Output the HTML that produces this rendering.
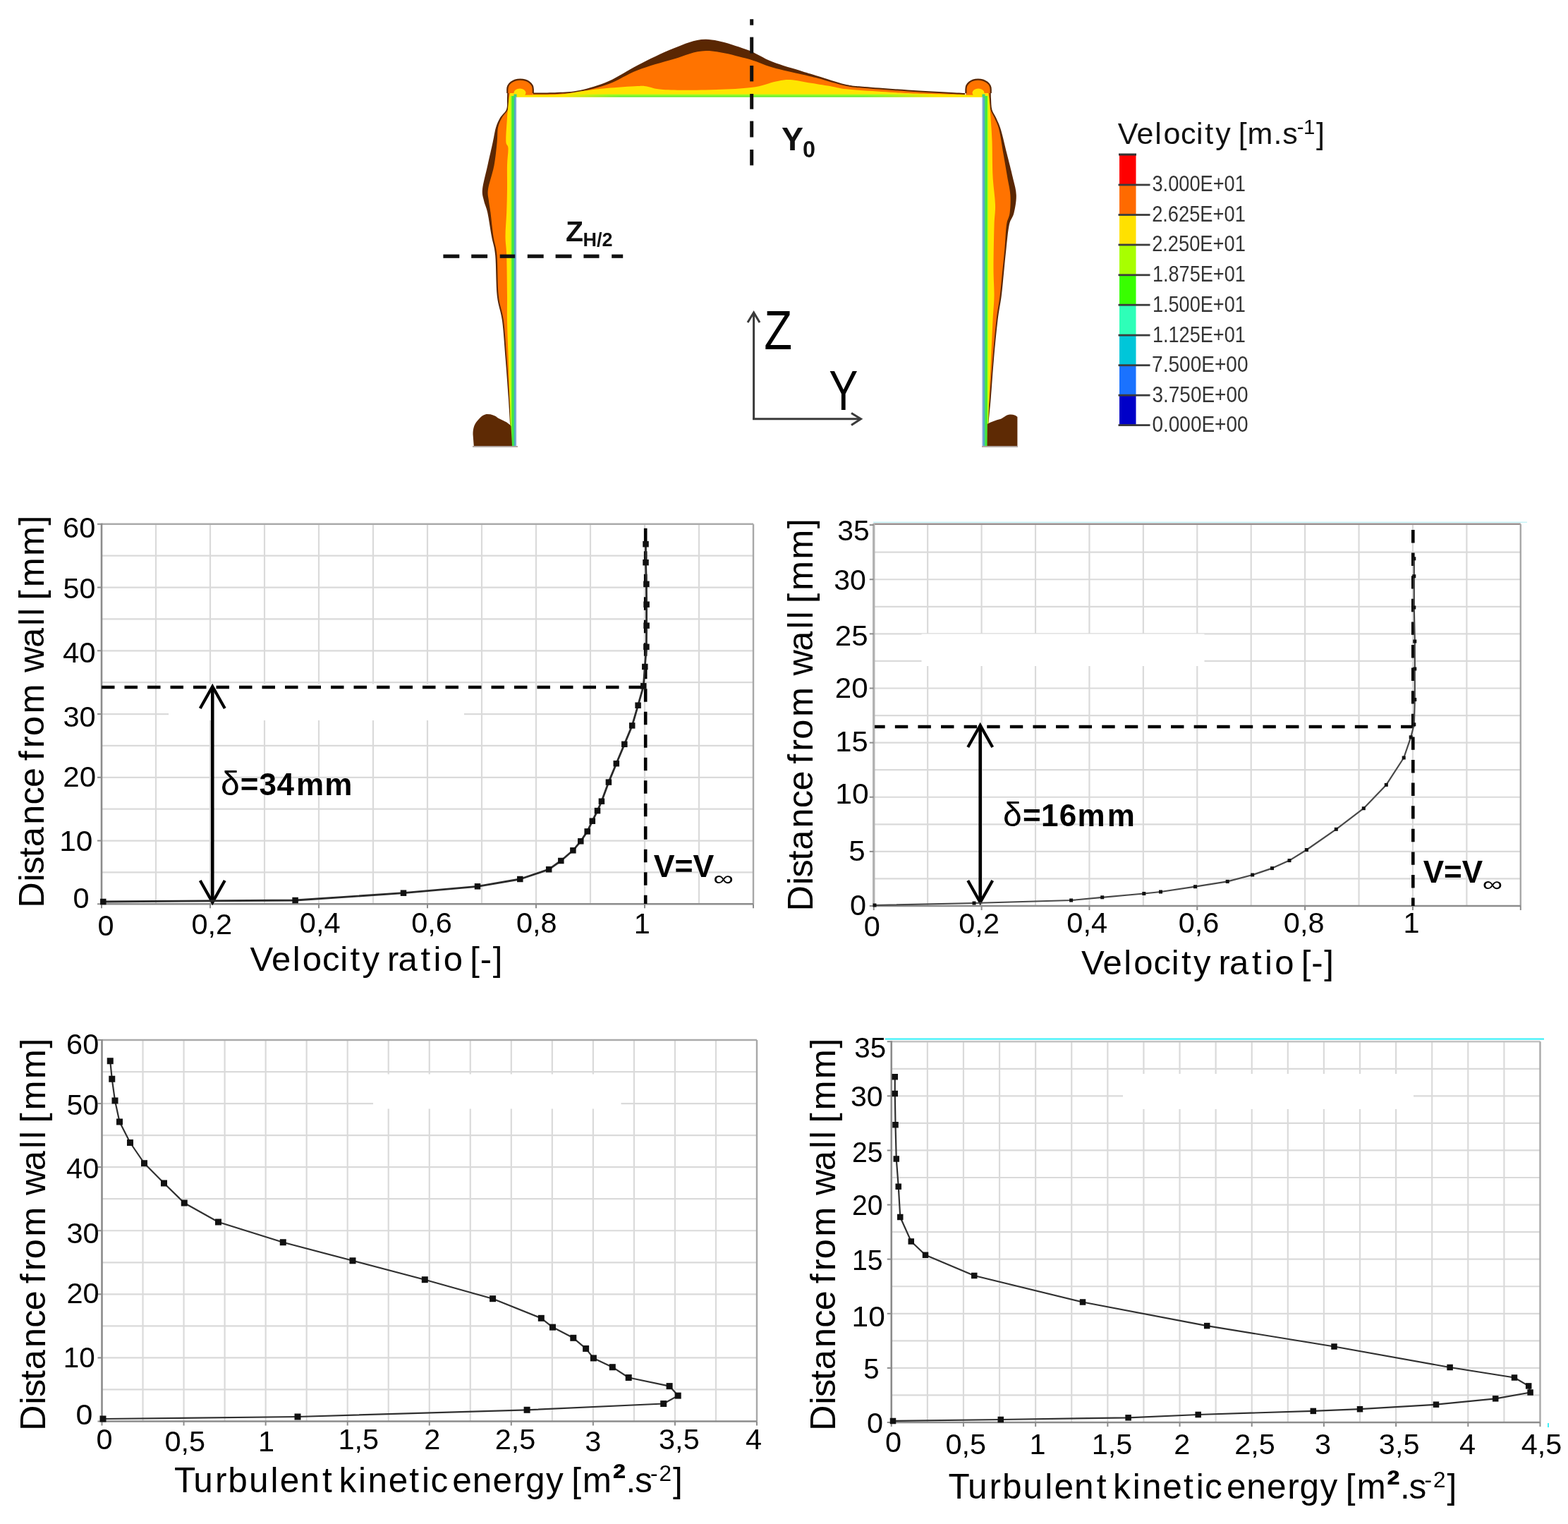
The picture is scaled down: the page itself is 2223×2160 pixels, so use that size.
<!DOCTYPE html><html><head><meta charset="utf-8"><title>Velocity and turbulence profiles</title>
<style>html,body{margin:0;padding:0;background:#fff;overflow:hidden;width:2223px;height:2160px;}svg{display:block;}text{font-family:'Liberation Sans', 'DejaVu Sans', sans-serif;font-kerning:none;}</style></head><body>
<svg width="2223" height="2160" viewBox="0 0 2223 2160">
<rect width="2223" height="2160" fill="#fff"/>
<g id="contour">
<path d="M719.3,128 C719.25,130 719.22,135.5 719,140 C718.78,144.5 719.67,150.5 718,155 C716.33,159.5 711.5,162.67 709,167 C706.5,171.33 704.7,175.33 703,181 C701.3,186.67 700.75,192.08 698.8,201 C696.85,209.92 693.77,223.33 691.3,234.5 C688.83,245.67 684.85,259.58 684,268 C683.15,276.42 684.98,279.38 686.2,285 C687.42,290.62 689.5,293.32 691.3,301.7 C693.1,310.08 695.18,325.25 697,335.3 C698.82,345.35 700.92,348.05 702.2,362 C703.48,375.95 703.07,403.57 704.7,419 C706.33,434.43 710,439.6 712,454.6 C714,469.6 715.23,490.8 716.7,509 C718.17,527.2 719.75,548.63 720.8,563.8 C721.85,578.97 722.3,588.47 723,600 C723.7,611.53 724.67,627.5 725,633 L731.5,633 L731.5,128 Z" fill="#5a2703"/>
<path d="M721.3,128 C721.25,130 721.22,135.5 721,140 C720.78,144.5 721.58,150.5 720,155 C718.42,159.5 713.83,162.67 711.5,167 C709.17,171.33 707.13,175.33 706,181 C704.87,186.67 705.62,192.08 704.7,201 C703.78,209.92 702.62,223.33 700.5,234.5 C698.38,245.67 693.25,259.58 692,268 C690.75,276.42 692.42,279.38 693,285 C693.58,290.62 694.42,293.32 695.5,301.7 C696.58,310.08 698,325.25 699.5,335.3 C701,345.35 703.28,348.05 704.5,362 C705.72,375.95 705.22,403.57 706.8,419 C708.38,434.43 712.05,439.6 714,454.6 C715.95,469.6 717.12,490.8 718.5,509 C719.88,527.2 721.33,548.63 722.3,563.8 C723.27,578.97 723.63,588.47 724.3,600 C724.97,611.53 725.97,627.5 726.3,633 L731.5,633 L731.5,128 Z" fill="#ff7300"/>
<path d="M724,128 C723.58,130 722.17,135.5 721.5,140 C720.83,144.5 720.42,150.5 720,155 C719.58,159.5 719.45,159.5 719,167 C718.55,174.5 717.05,192.83 717.3,200 C717.55,207.17 720.22,204.33 720.5,210 C720.78,215.67 719.25,224.33 719,234 C718.75,243.67 719.13,256.83 719,268 C718.87,279.17 718.62,289.83 718.2,301 C717.78,312.17 716.5,324.83 716.5,335 C716.5,345.17 717.78,348 718.2,362 C718.62,376 718.87,403.67 719,419 C719.13,434.33 718.7,439 719,454 C719.3,469 720.22,490.83 720.8,509 C721.38,527.17 721.97,547.83 722.5,563 C723.03,578.17 723.33,588.33 724,600 C724.67,611.67 726.08,627.5 726.5,633 L731.5,633 L731.5,128 Z" fill="#ffe400"/>
<rect x="723.5" y="136" width="2" height="497" fill="#b8ff10"/>
<rect x="725.3" y="136" width="3.6" height="497" fill="#3ee83e"/>
<rect x="728.6" y="136" width="2.4" height="497" fill="#3fb3bf"/>
<rect x="730.6" y="136" width="1.4" height="497" fill="#7f9fd8"/>
<path d="M1404.7,128 C1404.75,130 1404.72,135.42 1405,140 C1405.28,144.58 1405.18,150.97 1406.4,155.5 C1407.62,160.03 1410.2,162.45 1412.3,167.2 C1414.4,171.95 1416.48,175.6 1419,184 C1421.52,192.4 1424.6,206.38 1427.4,217.6 C1430.2,228.82 1433.57,241.48 1435.8,251.3 C1438.03,261.12 1440.52,268.1 1440.8,276.5 C1441.08,284.9 1439.17,294.7 1437.5,301.7 C1435.83,308.7 1432.62,310.12 1430.8,318.5 C1428.98,326.88 1427.87,340.8 1426.6,352 C1425.33,363.2 1424.33,374.48 1423.2,385.7 C1422.07,396.92 1421.27,407.82 1419.8,419.3 C1418.33,430.78 1416.2,439.65 1414.4,454.6 C1412.6,469.55 1410.6,490.8 1409,509 C1407.4,527.2 1406.05,548.63 1404.8,563.8 C1403.55,578.97 1402.38,588.47 1401.5,600 C1400.62,611.53 1399.83,627.5 1399.5,633 L1393.5,633 L1393.5,128 Z" fill="#5a2703"/>
<path d="M1402.7,128 C1402.75,130 1402.72,135.42 1403,140 C1403.28,144.58 1403.23,150.97 1404.4,155.5 C1405.57,160.03 1407.98,162.45 1410,167.2 C1412.02,171.95 1414.43,175.6 1416.5,184 C1418.57,192.4 1420.45,206.38 1422.4,217.6 C1424.35,228.82 1426.53,241.48 1428.2,251.3 C1429.87,261.12 1431.83,268.1 1432.4,276.5 C1432.97,284.9 1432.5,294.7 1431.6,301.7 C1430.7,308.7 1428.2,310.12 1427,318.5 C1425.8,326.88 1425.4,340.8 1424.4,352 C1423.4,363.2 1422.13,374.48 1421,385.7 C1419.87,396.92 1419.03,407.82 1417.6,419.3 C1416.17,430.78 1414.13,439.65 1412.4,454.6 C1410.67,469.55 1408.77,490.8 1407.2,509 C1405.63,527.2 1404.2,548.63 1403,563.8 C1401.8,578.97 1400.83,588.47 1400,600 C1399.17,611.53 1398.33,627.5 1398,633 L1393.5,633 L1393.5,128 Z" fill="#ff7300"/>
<path d="M1400,128 C1400.42,130 1401.75,133.5 1402.5,140 C1403.25,146.5 1403.83,157 1404.5,167 C1405.17,177 1406,186.17 1406.5,200 C1407,213.83 1406.75,235 1407.5,250 C1408.25,265 1410.67,278.33 1411,290 C1411.33,301.67 1409.92,305 1409.5,320 C1409.08,335 1408.5,363.5 1408.5,380 C1408.5,396.5 1409.67,406.67 1409.5,419 C1409.33,431.33 1408.25,439 1407.5,454 C1406.75,469 1405.83,490.83 1405,509 C1404.17,527.17 1403.2,547.83 1402.5,563 C1401.8,578.17 1401.35,588.33 1400.8,600 C1400.25,611.67 1399.47,627.5 1399.2,633 L1393.5,633 L1393.5,128 Z" fill="#ffe400"/>
<rect x="1399.3" y="136" width="2" height="497" fill="#b8ff10"/>
<rect x="1396.3" y="136" width="3.4" height="497" fill="#3ee83e"/>
<rect x="1394" y="136" width="2.4" height="497" fill="#3fb3bf"/>
<rect x="1393" y="136" width="1.4" height="497" fill="#7f9fd8"/>
<path d="M756,131.5 C761.67,131.42 779,131.58 790,131 C801,130.42 809.83,130.67 822,128 C834.17,125.33 849.33,120.92 863,115 C876.67,109.08 888.67,100.25 904,92.5 C919.33,84.75 938.83,74.63 955,68.5 C971.17,62.37 984,55.5 1001,55.7 C1018,55.9 1041.33,64.38 1057,69.7 C1072.67,75.02 1081.67,82.38 1095,87.6 C1108.33,92.82 1126.17,97.6 1137,101 C1147.83,104.4 1149.83,104.92 1160,108 C1170.17,111.08 1187,117 1198,119.5 C1209,122 1208.5,121.5 1226,123 C1243.5,124.5 1279.33,127 1303,128.5 C1326.67,130 1357.17,131.42 1368,132 L1368,139 L756,139 Z" fill="#5a2703"/>
<path d="M756,133.5 C761.67,133.42 779,133.58 790,133 C801,132.42 809.83,132.33 822,130 C834.17,127.67 849.33,124.08 863,119 C876.67,113.92 888.67,105.37 904,99.5 C919.33,93.63 938.83,88.38 955,83.8 C971.17,79.22 984,72.22 1001,72 C1018,71.78 1041.33,78.58 1057,82.5 C1072.67,86.42 1081.67,91.67 1095,95.5 C1108.33,99.33 1126.17,102.92 1137,105.5 C1147.83,108.08 1149.83,108.33 1160,111 C1170.17,113.67 1187,119.17 1198,121.5 C1209,123.83 1208.5,123.5 1226,125 C1243.5,126.5 1279.33,129 1303,130.5 C1326.67,132 1357.17,133.42 1368,134 L1368,139 L756,139 Z" fill="#ff7300"/>
<path d="M740,134.5 C748.33,134.42 775,135 790,134 C805,133 818.33,130 830,128.5 C841.67,127 847.67,126.08 860,125 C872.33,123.92 894.5,122.42 904,122 C913.5,121.58 911,121.67 917,122.5 C923,123.33 926.17,126.17 940,127 C953.83,127.83 979.17,128 1000,127.5 C1020.83,127 1048.33,126.02 1065,124 C1081.67,121.98 1090.83,117.23 1100,115.4 C1109.17,113.57 1111.67,112.6 1120,113 C1128.33,113.4 1140,116.18 1150,117.8 C1160,119.42 1171.67,121.28 1180,122.7 C1188.33,124.12 1188.33,125.08 1200,126.3 C1211.67,127.52 1233.33,128.97 1250,130 C1266.67,131.03 1277.5,131.75 1300,132.5 C1322.5,133.25 1370.83,134.17 1385,134.5 L1385,139 L740,139 Z" fill="#ffe400"/>
<path d="M719.3,132 L719.3,127 C719.2,118.6 727.3,112.6 737.6,112.6 C747.9,112.6 755.8,118.6 755.8,126.5 L755.8,132.2 L755.8,139 L731,139 L731,132 Z" fill="#ff7300"/>
<path d="M1404.7,132 L1404.7,127 C1404.8,118.6 1396.7,112.6 1386.6,112.6 C1376.3,112.6 1369.4,118.6 1369.4,126.5 L1369.4,132.2 L1369.4,139 L1394,139 L1394,132 Z" fill="#ff7300"/>
<path d="M719.3,132 L719.3,127 C719.2,118.6 727.3,112.6 737.6,112.6 C747.9,112.6 755.8,118.6 755.8,126.5 L755.8,132.2" fill="none" stroke="#5a2703" stroke-width="2.2" stroke-linejoin="round"/>
<path d="M1404.7,132 L1404.7,127 C1404.8,118.6 1396.7,112.6 1386.6,112.6 C1376.3,112.6 1369.4,118.6 1369.4,126.5 L1369.4,132.2" fill="none" stroke="#5a2703" stroke-width="2.2" stroke-linejoin="round"/>
<ellipse cx="737" cy="131.5" rx="8.5" ry="6" fill="#ffe400"/>
<ellipse cx="1387" cy="131.5" rx="8.5" ry="6" fill="#ffe400"/>
<rect x="731" y="134.6" width="663" height="4" fill="#ffe400"/>
<defs><linearGradient id="gb" x1="0" x2="1" y1="0" y2="0"><stop offset="0" stop-color="#9cff20" stop-opacity="0"/><stop offset="0.12" stop-color="#9cff20" stop-opacity="1"/><stop offset="0.85" stop-color="#9cff20" stop-opacity="1"/><stop offset="1" stop-color="#9cff20" stop-opacity="0"/></linearGradient><linearGradient id="gb2" x1="0" x2="1" y1="0" y2="0"><stop offset="0" stop-color="#5ef03a" stop-opacity="0"/><stop offset="0.15" stop-color="#5ef03a" stop-opacity="1"/><stop offset="0.8" stop-color="#5ef03a" stop-opacity="1"/><stop offset="1" stop-color="#5ef03a" stop-opacity="0"/></linearGradient></defs>
<rect x="800" y="133.6" width="530" height="2.2" fill="url(#gb)"/>
<rect x="800" y="135.6" width="530" height="2.2" fill="url(#gb2)"/>
<rect x="731" y="137.8" width="663" height="1.2" fill="#f4fbc8"/>
<rect x="728.5" y="133.5" width="4" height="5.5" fill="#3fd07a"/>
<rect x="1392.5" y="133.5" width="4" height="5.5" fill="#3fd07a"/>
<path d="M671.8,632.5 L670.5,615.6 C670.5,606 673,600 678,595 C683,589 687,587 691,587 C697,587 702,589 706,592.4 C711,595 715,596.5 718.3,598.5 C721,600.5 723,602 724.5,604 L726,632.5 Z" fill="#5e2a04"/>
<path d="M1399.5,632.5 L1399.8,601 C1405,598 1412,595.5 1418,594 C1422,593 1425,589 1430,587.8 C1436,587 1440,588.5 1442.4,591 L1442.4,632.5 Z" fill="#5e2a04"/>
<rect x="732" y="137.9" width="660.8" height="495" fill="#fff"/>
<rect x="730.8" y="137" width="1.4" height="496" fill="#8fb0dc"/>
<rect x="1392.4" y="137" width="1.4" height="496" fill="#8fb0dc"/>
<rect x="670" y="632" width="64" height="2" fill="#b4aaa6"/>
<rect x="1392" y="632" width="51" height="2" fill="#b4aaa6"/>
</g>
<rect x="1063.2" y="27.2" width="5" height="8.5" fill="#111"/>
<rect x="1063.2" y="52.6" width="5" height="23" fill="#111"/>
<rect x="1063.2" y="93" width="5" height="22.4" fill="#111"/>
<rect x="1063.2" y="133" width="5" height="21.7" fill="#111"/>
<rect x="1063.2" y="171.6" width="5" height="22.9" fill="#111"/>
<rect x="1063.2" y="212" width="5" height="22.4" fill="#111"/>
<rect x="628.4" y="360.6" width="22.9" height="5.2" fill="#111"/>
<rect x="668.2" y="360.6" width="22.9" height="5.2" fill="#111"/>
<rect x="708.7" y="360.6" width="21.5" height="5.2" fill="#111"/>
<rect x="747.8" y="360.6" width="22.9" height="5.2" fill="#111"/>
<rect x="787.6" y="360.6" width="22.9" height="5.2" fill="#111"/>
<rect x="827.4" y="360.6" width="22.1" height="5.2" fill="#111"/>
<rect x="867.2" y="360.6" width="16" height="5.2" fill="#111"/>
<text x="1108" y="213.2" font-size="46" textLength="31" lengthAdjust="spacingAndGlyphs" font-weight="bold" fill="#111">Y</text>
<text x="1138" y="222.9" font-size="33" textLength="18" lengthAdjust="spacingAndGlyphs" font-weight="bold" fill="#111">0</text>
<text x="802" y="342" font-size="40" textLength="25" lengthAdjust="spacingAndGlyphs" font-weight="bold" fill="#111">Z</text>
<text x="826.5" y="349" font-size="27.5" textLength="42" lengthAdjust="spacingAndGlyphs" font-weight="bold" fill="#111">H/2</text>
<line x1="1068.6" y1="445" x2="1068.6" y2="594.8" stroke="#3a3a3a" stroke-width="3"/>
<line x1="1067.1" y1="593.8" x2="1218" y2="593.8" stroke="#3a3a3a" stroke-width="3"/>
<polyline points="1060,457 1068.6,443 1077,457" fill="none" stroke="#3a3a3a" stroke-width="3"/>
<polyline points="1207,585.5 1220.5,593.8 1207,602.5" fill="none" stroke="#3a3a3a" stroke-width="3"/>
<text x="1083.13" y="494.6" font-size="77.5" textLength="39.8" lengthAdjust="spacingAndGlyphs">Z</text>
<text x="1175.15" y="580.7" font-size="79" textLength="41.11" lengthAdjust="spacingAndGlyphs">Y</text>
<text y="204.2" font-size="43" fill="#111"><tspan x="1584.76 1611.43 1637.36 1649.39 1674.06 1696.02 1708.36 1723.15 1744.65 1755.86 1768.48 1805.53 1818.33">Velocity [m.s</tspan><tspan x="1838.7 1848.07" y="190.4" font-size="29.4">-1</tspan><tspan x="1865.94" y="204.2">]</tspan></text>
<rect x="1587" y="219" width="23.5" height="43" fill="#ff0000"/>
<rect x="1587" y="262" width="23.5" height="42.5" fill="#ff6a00"/>
<rect x="1587" y="304.5" width="23.5" height="42.5" fill="#ffe100"/>
<rect x="1587" y="347" width="23.5" height="42.8" fill="#a8ff00"/>
<rect x="1587" y="389.8" width="23.5" height="42.4" fill="#38ff00"/>
<rect x="1587" y="432.2" width="23.5" height="42.9" fill="#2effb8"/>
<rect x="1587" y="475.1" width="23.5" height="42.6" fill="#00c6d9"/>
<rect x="1587" y="517.7" width="23.5" height="42.5" fill="#1a72ff"/>
<rect x="1587" y="560.2" width="23.5" height="42.4" fill="#0000c8"/>
<rect x="1586" y="217.5" width="25" height="3" fill="#333"/>
<rect x="1585.5" y="260.6" width="45" height="2.8" fill="#3c3c3c"/>
<text x="1633.46" y="271.4" font-size="31" textLength="132.36" lengthAdjust="spacingAndGlyphs" fill="#333">3.000E+01</text>
<rect x="1585.5" y="303.1" width="45" height="2.8" fill="#3c3c3c"/>
<text x="1633.13" y="313.9" font-size="31" textLength="132.7" lengthAdjust="spacingAndGlyphs" fill="#333">2.625E+01</text>
<rect x="1585.5" y="345.6" width="45" height="2.8" fill="#3c3c3c"/>
<text x="1633.13" y="356.4" font-size="31" textLength="132.7" lengthAdjust="spacingAndGlyphs" fill="#333">2.250E+01</text>
<rect x="1585.5" y="388.4" width="45" height="2.8" fill="#3c3c3c"/>
<text x="1633.94" y="399.2" font-size="31" textLength="131.89" lengthAdjust="spacingAndGlyphs" fill="#333">1.875E+01</text>
<rect x="1585.5" y="430.8" width="45" height="2.8" fill="#3c3c3c"/>
<text x="1633.94" y="441.6" font-size="31" textLength="131.89" lengthAdjust="spacingAndGlyphs" fill="#333">1.500E+01</text>
<rect x="1585.5" y="473.7" width="45" height="2.8" fill="#3c3c3c"/>
<text x="1633.94" y="484.5" font-size="31" textLength="131.89" lengthAdjust="spacingAndGlyphs" fill="#333">1.125E+01</text>
<rect x="1585.5" y="516.3" width="45" height="2.8" fill="#3c3c3c"/>
<text x="1633.06" y="527.1" font-size="31" textLength="136.53" lengthAdjust="spacingAndGlyphs" fill="#333">7.500E+00</text>
<rect x="1585.5" y="558.8" width="45" height="2.8" fill="#3c3c3c"/>
<text x="1633.43" y="569.6" font-size="31" textLength="136.16" lengthAdjust="spacingAndGlyphs" fill="#333">3.750E+00</text>
<rect x="1585.5" y="601.2" width="45" height="2.8" fill="#3c3c3c"/>
<text x="1633.41" y="612" font-size="31" textLength="136.19" lengthAdjust="spacingAndGlyphs" fill="#333">0.000E+00</text>
<line x1="221" y1="742.8" x2="221" y2="1281.3" stroke="#dadada" stroke-width="2.2"/>
<line x1="298" y1="742.8" x2="298" y2="1281.3" stroke="#dadada" stroke-width="2.2"/>
<line x1="375" y1="742.8" x2="375" y2="1281.3" stroke="#dadada" stroke-width="2.2"/>
<line x1="452" y1="742.8" x2="452" y2="1281.3" stroke="#dadada" stroke-width="2.2"/>
<line x1="529" y1="742.8" x2="529" y2="1281.3" stroke="#dadada" stroke-width="2.2"/>
<line x1="606" y1="742.8" x2="606" y2="1281.3" stroke="#dadada" stroke-width="2.2"/>
<line x1="683" y1="742.8" x2="683" y2="1281.3" stroke="#dadada" stroke-width="2.2"/>
<line x1="760" y1="742.8" x2="760" y2="1281.3" stroke="#dadada" stroke-width="2.2"/>
<line x1="837" y1="742.8" x2="837" y2="1281.3" stroke="#dadada" stroke-width="2.2"/>
<line x1="914" y1="742.8" x2="914" y2="1281.3" stroke="#dadada" stroke-width="2.2"/>
<line x1="991" y1="742.8" x2="991" y2="1281.3" stroke="#dadada" stroke-width="2.2"/>
<line x1="144" y1="1236.42" x2="1068" y2="1236.42" stroke="#dadada" stroke-width="2.2"/>
<line x1="144" y1="1191.55" x2="1068" y2="1191.55" stroke="#dadada" stroke-width="2.2"/>
<line x1="144" y1="1146.67" x2="1068" y2="1146.67" stroke="#dadada" stroke-width="2.2"/>
<line x1="144" y1="1101.8" x2="1068" y2="1101.8" stroke="#dadada" stroke-width="2.2"/>
<line x1="144" y1="1056.92" x2="1068" y2="1056.92" stroke="#dadada" stroke-width="2.2"/>
<line x1="144" y1="1012.05" x2="1068" y2="1012.05" stroke="#dadada" stroke-width="2.2"/>
<line x1="144" y1="967.17" x2="1068" y2="967.17" stroke="#dadada" stroke-width="2.2"/>
<line x1="144" y1="922.3" x2="1068" y2="922.3" stroke="#dadada" stroke-width="2.2"/>
<line x1="144" y1="877.42" x2="1068" y2="877.42" stroke="#dadada" stroke-width="2.2"/>
<line x1="144" y1="832.55" x2="1068" y2="832.55" stroke="#dadada" stroke-width="2.2"/>
<line x1="144" y1="787.67" x2="1068" y2="787.67" stroke="#dadada" stroke-width="2.2"/>
<rect x="239" y="969.5" width="419" height="51.5" fill="#fff"/>
<line x1="144" y1="742.8" x2="1068" y2="742.8" stroke="#aaaaaa" stroke-width="2.4"/>
<line x1="1068" y1="742.8" x2="1068" y2="1281.3" stroke="#a8a8a8" stroke-width="2.4"/>
<line x1="144" y1="1281.3" x2="1068" y2="1281.3" stroke="#8c8c8c" stroke-width="2.6"/>
<line x1="144" y1="741.8" x2="144" y2="1282.3" stroke="#8c8c8c" stroke-width="2.6"/>
<line x1="138" y1="1281.3" x2="144" y2="1281.3" stroke="#8c8c8c" stroke-width="2"/>
<line x1="138" y1="1191.55" x2="144" y2="1191.55" stroke="#8c8c8c" stroke-width="2"/>
<line x1="138" y1="1101.8" x2="144" y2="1101.8" stroke="#8c8c8c" stroke-width="2"/>
<line x1="138" y1="1012.05" x2="144" y2="1012.05" stroke="#8c8c8c" stroke-width="2"/>
<line x1="138" y1="922.3" x2="144" y2="922.3" stroke="#8c8c8c" stroke-width="2"/>
<line x1="138" y1="832.55" x2="144" y2="832.55" stroke="#8c8c8c" stroke-width="2"/>
<line x1="138" y1="742.8" x2="144" y2="742.8" stroke="#8c8c8c" stroke-width="2"/>
<line x1="144" y1="1281.3" x2="144" y2="1287.3" stroke="#8c8c8c" stroke-width="2"/>
<line x1="298" y1="1281.3" x2="298" y2="1287.3" stroke="#8c8c8c" stroke-width="2"/>
<line x1="452" y1="1281.3" x2="452" y2="1287.3" stroke="#8c8c8c" stroke-width="2"/>
<line x1="606" y1="1281.3" x2="606" y2="1287.3" stroke="#8c8c8c" stroke-width="2"/>
<line x1="760" y1="1281.3" x2="760" y2="1287.3" stroke="#8c8c8c" stroke-width="2"/>
<line x1="914" y1="1281.3" x2="914" y2="1287.3" stroke="#8c8c8c" stroke-width="2"/>
<line x1="1068" y1="1281.3" x2="1068" y2="1287.3" stroke="#8c8c8c" stroke-width="2"/>
<line x1="1238" y1="740.3" x2="2165" y2="740.3" stroke="#c8f4f8" stroke-width="1.6"/>
<line x1="1315.17" y1="742.7" x2="1315.17" y2="1284" stroke="#dadada" stroke-width="2.2"/>
<line x1="1391.59" y1="742.7" x2="1391.59" y2="1284" stroke="#dadada" stroke-width="2.2"/>
<line x1="1468.01" y1="742.7" x2="1468.01" y2="1284" stroke="#dadada" stroke-width="2.2"/>
<line x1="1544.43" y1="742.7" x2="1544.43" y2="1284" stroke="#dadada" stroke-width="2.2"/>
<line x1="1620.85" y1="742.7" x2="1620.85" y2="1284" stroke="#dadada" stroke-width="2.2"/>
<line x1="1697.28" y1="742.7" x2="1697.28" y2="1284" stroke="#dadada" stroke-width="2.2"/>
<line x1="1773.7" y1="742.7" x2="1773.7" y2="1284" stroke="#dadada" stroke-width="2.2"/>
<line x1="1850.12" y1="742.7" x2="1850.12" y2="1284" stroke="#dadada" stroke-width="2.2"/>
<line x1="1926.54" y1="742.7" x2="1926.54" y2="1284" stroke="#dadada" stroke-width="2.2"/>
<line x1="2002.96" y1="742.7" x2="2002.96" y2="1284" stroke="#dadada" stroke-width="2.2"/>
<line x1="2079.38" y1="742.7" x2="2079.38" y2="1284" stroke="#dadada" stroke-width="2.2"/>
<line x1="1238.75" y1="1245.44" x2="2155.8" y2="1245.44" stroke="#dadada" stroke-width="2.2"/>
<line x1="1238.75" y1="1206.87" x2="2155.8" y2="1206.87" stroke="#dadada" stroke-width="2.2"/>
<line x1="1238.75" y1="1168.31" x2="2155.8" y2="1168.31" stroke="#dadada" stroke-width="2.2"/>
<line x1="1238.75" y1="1129.74" x2="2155.8" y2="1129.74" stroke="#dadada" stroke-width="2.2"/>
<line x1="1238.75" y1="1091.18" x2="2155.8" y2="1091.18" stroke="#dadada" stroke-width="2.2"/>
<line x1="1238.75" y1="1052.61" x2="2155.8" y2="1052.61" stroke="#dadada" stroke-width="2.2"/>
<line x1="1238.75" y1="1014.05" x2="2155.8" y2="1014.05" stroke="#dadada" stroke-width="2.2"/>
<line x1="1238.75" y1="975.49" x2="2155.8" y2="975.49" stroke="#dadada" stroke-width="2.2"/>
<line x1="1238.75" y1="936.92" x2="2155.8" y2="936.92" stroke="#dadada" stroke-width="2.2"/>
<line x1="1238.75" y1="898.36" x2="2155.8" y2="898.36" stroke="#dadada" stroke-width="2.2"/>
<line x1="1238.75" y1="859.79" x2="2155.8" y2="859.79" stroke="#dadada" stroke-width="2.2"/>
<line x1="1238.75" y1="821.23" x2="2155.8" y2="821.23" stroke="#dadada" stroke-width="2.2"/>
<line x1="1238.75" y1="782.66" x2="2155.8" y2="782.66" stroke="#dadada" stroke-width="2.2"/>
<rect x="1306.5" y="898.5" width="401" height="45.5" fill="#fff"/>
<line x1="1238.75" y1="742.7" x2="2155.8" y2="742.7" stroke="#9a9090" stroke-width="2.4"/>
<line x1="2155.8" y1="742.7" x2="2155.8" y2="1284" stroke="#a8a8a8" stroke-width="2.4"/>
<line x1="1238.75" y1="1284" x2="2155.8" y2="1284" stroke="#8c8c8c" stroke-width="2.6"/>
<line x1="1238.75" y1="741.7" x2="1238.75" y2="1285" stroke="#b2b2b2" stroke-width="3.4"/>
<line x1="1232.75" y1="1284" x2="1238.75" y2="1284" stroke="#8c8c8c" stroke-width="2"/>
<line x1="1232.75" y1="1206.87" x2="1238.75" y2="1206.87" stroke="#8c8c8c" stroke-width="2"/>
<line x1="1232.75" y1="1129.74" x2="1238.75" y2="1129.74" stroke="#8c8c8c" stroke-width="2"/>
<line x1="1232.75" y1="1052.61" x2="1238.75" y2="1052.61" stroke="#8c8c8c" stroke-width="2"/>
<line x1="1232.75" y1="975.49" x2="1238.75" y2="975.49" stroke="#8c8c8c" stroke-width="2"/>
<line x1="1232.75" y1="898.36" x2="1238.75" y2="898.36" stroke="#8c8c8c" stroke-width="2"/>
<line x1="1232.75" y1="821.23" x2="1238.75" y2="821.23" stroke="#8c8c8c" stroke-width="2"/>
<line x1="1232.75" y1="744.1" x2="1238.75" y2="744.1" stroke="#8c8c8c" stroke-width="2"/>
<line x1="1238.75" y1="1284" x2="1238.75" y2="1290" stroke="#8c8c8c" stroke-width="2"/>
<line x1="1391.59" y1="1284" x2="1391.59" y2="1290" stroke="#8c8c8c" stroke-width="2"/>
<line x1="1544.43" y1="1284" x2="1544.43" y2="1290" stroke="#8c8c8c" stroke-width="2"/>
<line x1="1697.28" y1="1284" x2="1697.28" y2="1290" stroke="#8c8c8c" stroke-width="2"/>
<line x1="1850.12" y1="1284" x2="1850.12" y2="1290" stroke="#8c8c8c" stroke-width="2"/>
<line x1="2002.96" y1="1284" x2="2002.96" y2="1290" stroke="#8c8c8c" stroke-width="2"/>
<line x1="2155.8" y1="1284" x2="2155.8" y2="1290" stroke="#8c8c8c" stroke-width="2"/>
<line x1="202.53" y1="1474" x2="202.53" y2="2014.5" stroke="#dadada" stroke-width="2.2"/>
<line x1="260.56" y1="1474" x2="260.56" y2="2014.5" stroke="#dadada" stroke-width="2.2"/>
<line x1="318.59" y1="1474" x2="318.59" y2="2014.5" stroke="#dadada" stroke-width="2.2"/>
<line x1="376.62" y1="1474" x2="376.62" y2="2014.5" stroke="#dadada" stroke-width="2.2"/>
<line x1="434.66" y1="1474" x2="434.66" y2="2014.5" stroke="#dadada" stroke-width="2.2"/>
<line x1="492.69" y1="1474" x2="492.69" y2="2014.5" stroke="#dadada" stroke-width="2.2"/>
<line x1="550.72" y1="1474" x2="550.72" y2="2014.5" stroke="#dadada" stroke-width="2.2"/>
<line x1="608.75" y1="1474" x2="608.75" y2="2014.5" stroke="#dadada" stroke-width="2.2"/>
<line x1="666.78" y1="1474" x2="666.78" y2="2014.5" stroke="#dadada" stroke-width="2.2"/>
<line x1="724.81" y1="1474" x2="724.81" y2="2014.5" stroke="#dadada" stroke-width="2.2"/>
<line x1="782.84" y1="1474" x2="782.84" y2="2014.5" stroke="#dadada" stroke-width="2.2"/>
<line x1="840.88" y1="1474" x2="840.88" y2="2014.5" stroke="#dadada" stroke-width="2.2"/>
<line x1="898.91" y1="1474" x2="898.91" y2="2014.5" stroke="#dadada" stroke-width="2.2"/>
<line x1="956.94" y1="1474" x2="956.94" y2="2014.5" stroke="#dadada" stroke-width="2.2"/>
<line x1="1014.97" y1="1474" x2="1014.97" y2="2014.5" stroke="#dadada" stroke-width="2.2"/>
<line x1="144.5" y1="1969.46" x2="1073" y2="1969.46" stroke="#dadada" stroke-width="2.2"/>
<line x1="144.5" y1="1924.42" x2="1073" y2="1924.42" stroke="#dadada" stroke-width="2.2"/>
<line x1="144.5" y1="1879.38" x2="1073" y2="1879.38" stroke="#dadada" stroke-width="2.2"/>
<line x1="144.5" y1="1834.33" x2="1073" y2="1834.33" stroke="#dadada" stroke-width="2.2"/>
<line x1="144.5" y1="1789.29" x2="1073" y2="1789.29" stroke="#dadada" stroke-width="2.2"/>
<line x1="144.5" y1="1744.25" x2="1073" y2="1744.25" stroke="#dadada" stroke-width="2.2"/>
<line x1="144.5" y1="1699.21" x2="1073" y2="1699.21" stroke="#dadada" stroke-width="2.2"/>
<line x1="144.5" y1="1654.17" x2="1073" y2="1654.17" stroke="#dadada" stroke-width="2.2"/>
<line x1="144.5" y1="1609.12" x2="1073" y2="1609.12" stroke="#dadada" stroke-width="2.2"/>
<line x1="144.5" y1="1564.08" x2="1073" y2="1564.08" stroke="#dadada" stroke-width="2.2"/>
<line x1="144.5" y1="1519.04" x2="1073" y2="1519.04" stroke="#dadada" stroke-width="2.2"/>
<rect x="529" y="1522.5" width="351.5" height="49" fill="#fff"/>
<line x1="144.5" y1="1474" x2="1073" y2="1474" stroke="#aaaaaa" stroke-width="2.4"/>
<line x1="1073" y1="1474" x2="1073" y2="2014.5" stroke="#a8a8a8" stroke-width="2.4"/>
<line x1="144.5" y1="2014.5" x2="1073" y2="2014.5" stroke="#8c8c8c" stroke-width="2.6"/>
<line x1="144.5" y1="1473" x2="144.5" y2="2015.5" stroke="#8c8c8c" stroke-width="2.6"/>
<line x1="138.5" y1="2014.5" x2="144.5" y2="2014.5" stroke="#8c8c8c" stroke-width="2"/>
<line x1="138.5" y1="1924.42" x2="144.5" y2="1924.42" stroke="#8c8c8c" stroke-width="2"/>
<line x1="138.5" y1="1834.33" x2="144.5" y2="1834.33" stroke="#8c8c8c" stroke-width="2"/>
<line x1="138.5" y1="1744.25" x2="144.5" y2="1744.25" stroke="#8c8c8c" stroke-width="2"/>
<line x1="138.5" y1="1654.17" x2="144.5" y2="1654.17" stroke="#8c8c8c" stroke-width="2"/>
<line x1="138.5" y1="1564.08" x2="144.5" y2="1564.08" stroke="#8c8c8c" stroke-width="2"/>
<line x1="138.5" y1="1474" x2="144.5" y2="1474" stroke="#8c8c8c" stroke-width="2"/>
<line x1="144.5" y1="2014.5" x2="144.5" y2="2020.5" stroke="#8c8c8c" stroke-width="2"/>
<line x1="260.56" y1="2014.5" x2="260.56" y2="2020.5" stroke="#8c8c8c" stroke-width="2"/>
<line x1="376.62" y1="2014.5" x2="376.62" y2="2020.5" stroke="#8c8c8c" stroke-width="2"/>
<line x1="492.69" y1="2014.5" x2="492.69" y2="2020.5" stroke="#8c8c8c" stroke-width="2"/>
<line x1="608.75" y1="2014.5" x2="608.75" y2="2020.5" stroke="#8c8c8c" stroke-width="2"/>
<line x1="724.81" y1="2014.5" x2="724.81" y2="2020.5" stroke="#8c8c8c" stroke-width="2"/>
<line x1="840.88" y1="2014.5" x2="840.88" y2="2020.5" stroke="#8c8c8c" stroke-width="2"/>
<line x1="956.94" y1="2014.5" x2="956.94" y2="2020.5" stroke="#8c8c8c" stroke-width="2"/>
<line x1="1073" y1="2014.5" x2="1073" y2="2020.5" stroke="#8c8c8c" stroke-width="2"/>
<line x1="1314.85" y1="1476.25" x2="1314.85" y2="2016" stroke="#dadada" stroke-width="2.2"/>
<line x1="1365.94" y1="1476.25" x2="1365.94" y2="2016" stroke="#dadada" stroke-width="2.2"/>
<line x1="1417.04" y1="1476.25" x2="1417.04" y2="2016" stroke="#dadada" stroke-width="2.2"/>
<line x1="1468.14" y1="1476.25" x2="1468.14" y2="2016" stroke="#dadada" stroke-width="2.2"/>
<line x1="1519.24" y1="1476.25" x2="1519.24" y2="2016" stroke="#dadada" stroke-width="2.2"/>
<line x1="1570.33" y1="1476.25" x2="1570.33" y2="2016" stroke="#dadada" stroke-width="2.2"/>
<line x1="1621.43" y1="1476.25" x2="1621.43" y2="2016" stroke="#dadada" stroke-width="2.2"/>
<line x1="1672.53" y1="1476.25" x2="1672.53" y2="2016" stroke="#dadada" stroke-width="2.2"/>
<line x1="1723.62" y1="1476.25" x2="1723.62" y2="2016" stroke="#dadada" stroke-width="2.2"/>
<line x1="1774.72" y1="1476.25" x2="1774.72" y2="2016" stroke="#dadada" stroke-width="2.2"/>
<line x1="1825.82" y1="1476.25" x2="1825.82" y2="2016" stroke="#dadada" stroke-width="2.2"/>
<line x1="1876.92" y1="1476.25" x2="1876.92" y2="2016" stroke="#dadada" stroke-width="2.2"/>
<line x1="1928.01" y1="1476.25" x2="1928.01" y2="2016" stroke="#dadada" stroke-width="2.2"/>
<line x1="1979.11" y1="1476.25" x2="1979.11" y2="2016" stroke="#dadada" stroke-width="2.2"/>
<line x1="2030.21" y1="1476.25" x2="2030.21" y2="2016" stroke="#dadada" stroke-width="2.2"/>
<line x1="2081.31" y1="1476.25" x2="2081.31" y2="2016" stroke="#dadada" stroke-width="2.2"/>
<line x1="2132.4" y1="1476.25" x2="2132.4" y2="2016" stroke="#dadada" stroke-width="2.2"/>
<line x1="1263.75" y1="1977.45" x2="2183.5" y2="1977.45" stroke="#dadada" stroke-width="2.2"/>
<line x1="1263.75" y1="1938.89" x2="2183.5" y2="1938.89" stroke="#dadada" stroke-width="2.2"/>
<line x1="1263.75" y1="1900.34" x2="2183.5" y2="1900.34" stroke="#dadada" stroke-width="2.2"/>
<line x1="1263.75" y1="1861.79" x2="2183.5" y2="1861.79" stroke="#dadada" stroke-width="2.2"/>
<line x1="1263.75" y1="1823.23" x2="2183.5" y2="1823.23" stroke="#dadada" stroke-width="2.2"/>
<line x1="1263.75" y1="1784.68" x2="2183.5" y2="1784.68" stroke="#dadada" stroke-width="2.2"/>
<line x1="1263.75" y1="1746.12" x2="2183.5" y2="1746.12" stroke="#dadada" stroke-width="2.2"/>
<line x1="1263.75" y1="1707.57" x2="2183.5" y2="1707.57" stroke="#dadada" stroke-width="2.2"/>
<line x1="1263.75" y1="1669.02" x2="2183.5" y2="1669.02" stroke="#dadada" stroke-width="2.2"/>
<line x1="1263.75" y1="1630.46" x2="2183.5" y2="1630.46" stroke="#dadada" stroke-width="2.2"/>
<line x1="1263.75" y1="1591.91" x2="2183.5" y2="1591.91" stroke="#dadada" stroke-width="2.2"/>
<line x1="1263.75" y1="1553.36" x2="2183.5" y2="1553.36" stroke="#dadada" stroke-width="2.2"/>
<line x1="1263.75" y1="1514.8" x2="2183.5" y2="1514.8" stroke="#dadada" stroke-width="2.2"/>
<rect x="1592" y="1522" width="412" height="50" fill="#fff"/>
<line x1="1263.75" y1="1476.25" x2="2183.5" y2="1476.25" stroke="#c4c4c4" stroke-width="2.4"/>
<line x1="2183.5" y1="1476.25" x2="2183.5" y2="2016" stroke="#a8a8a8" stroke-width="2.4"/>
<line x1="1263.75" y1="2016" x2="2183.5" y2="2016" stroke="#8c8c8c" stroke-width="2.6"/>
<line x1="1263.75" y1="1475.25" x2="1263.75" y2="2017" stroke="#8c8c8c" stroke-width="2.6"/>
<line x1="1257.75" y1="2016" x2="1263.75" y2="2016" stroke="#8c8c8c" stroke-width="2"/>
<line x1="1257.75" y1="1938.89" x2="1263.75" y2="1938.89" stroke="#8c8c8c" stroke-width="2"/>
<line x1="1257.75" y1="1861.79" x2="1263.75" y2="1861.79" stroke="#8c8c8c" stroke-width="2"/>
<line x1="1257.75" y1="1784.68" x2="1263.75" y2="1784.68" stroke="#8c8c8c" stroke-width="2"/>
<line x1="1257.75" y1="1707.57" x2="1263.75" y2="1707.57" stroke="#8c8c8c" stroke-width="2"/>
<line x1="1257.75" y1="1630.46" x2="1263.75" y2="1630.46" stroke="#8c8c8c" stroke-width="2"/>
<line x1="1257.75" y1="1553.36" x2="1263.75" y2="1553.36" stroke="#8c8c8c" stroke-width="2"/>
<line x1="1257.75" y1="1476.25" x2="1263.75" y2="1476.25" stroke="#8c8c8c" stroke-width="2"/>
<line x1="1263.75" y1="2016" x2="1263.75" y2="2022" stroke="#8c8c8c" stroke-width="2"/>
<line x1="1365.94" y1="2016" x2="1365.94" y2="2022" stroke="#8c8c8c" stroke-width="2"/>
<line x1="1468.14" y1="2016" x2="1468.14" y2="2022" stroke="#8c8c8c" stroke-width="2"/>
<line x1="1570.33" y1="2016" x2="1570.33" y2="2022" stroke="#8c8c8c" stroke-width="2"/>
<line x1="1672.53" y1="2016" x2="1672.53" y2="2022" stroke="#8c8c8c" stroke-width="2"/>
<line x1="1774.72" y1="2016" x2="1774.72" y2="2022" stroke="#8c8c8c" stroke-width="2"/>
<line x1="1876.92" y1="2016" x2="1876.92" y2="2022" stroke="#8c8c8c" stroke-width="2"/>
<line x1="1979.11" y1="2016" x2="1979.11" y2="2022" stroke="#8c8c8c" stroke-width="2"/>
<line x1="2081.31" y1="2016" x2="2081.31" y2="2022" stroke="#8c8c8c" stroke-width="2"/>
<line x1="2183.5" y1="2016" x2="2183.5" y2="2022" stroke="#8c8c8c" stroke-width="2"/>
<line x1="1255" y1="1472.6" x2="2189" y2="1472.6" stroke="#3ff0f8" stroke-width="2.2"/>
<line x1="2195" y1="2017" x2="2195" y2="2023" stroke="#3ff0f8" stroke-width="2"/>
<line x1="144" y1="974" x2="914" y2="974" stroke="#000" stroke-width="4.4" stroke-dasharray="18.5 14" stroke-dashoffset="0"/>
<line x1="915.2" y1="748.7" x2="915.2" y2="1281" stroke="#000" stroke-width="4.6" stroke-dasharray="18.5 14" stroke-dashoffset="0"/>
<line x1="301.25" y1="974" x2="301.25" y2="1278" stroke="#000" stroke-width="4.6"/>
<polyline points="283.75,1004 301.25,973 318.75,1004" fill="none" stroke="#000" stroke-width="4.2" stroke-linejoin="miter"/>
<polyline points="283.75,1248 301.25,1279 318.75,1248" fill="none" stroke="#000" stroke-width="4.2" stroke-linejoin="miter"/>
<line x1="1240" y1="1030" x2="2003" y2="1030" stroke="#000" stroke-width="4.6" stroke-dasharray="18.4 14.2" stroke-dashoffset="3.75"/>
<line x1="2003.3" y1="751" x2="2003.3" y2="1284" stroke="#000" stroke-width="4.6" stroke-dasharray="18.4 14.2" stroke-dashoffset="0"/>
<line x1="1389.7" y1="1029" x2="1389.7" y2="1278" stroke="#000" stroke-width="4.6"/>
<polyline points="1372.2,1059 1389.7,1028 1407.2,1059" fill="none" stroke="#000" stroke-width="4.2" stroke-linejoin="miter"/>
<polyline points="1372.2,1248 1389.7,1279 1407.2,1248" fill="none" stroke="#000" stroke-width="4.2" stroke-linejoin="miter"/>
<polyline points="146.3,1278 418.6,1276 572,1265.7 677,1256.3 737.3,1246 778.2,1232.2 795.3,1220 812.4,1205.3 823.3,1192.3 832.7,1178.4 839.8,1163.7 847,1149.1 852.9,1135.7 862.9,1108.6 873.8,1082.2 885.3,1054.8 896.2,1028.4 904.6,999.7 912.3,972.3 914.3,945 916.4,916.8 916.6,886.7 916.6,856.7 916.4,827.8 915.5,797.2 915.5,771.2" fill="none" stroke="#2a2a2a" stroke-width="2.8" stroke-linejoin="round"/>
<rect x="142.05" y="1273.75" width="8.5" height="8.5" fill="#111"/>
<rect x="414.35" y="1271.75" width="8.5" height="8.5" fill="#111"/>
<rect x="567.75" y="1261.45" width="8.5" height="8.5" fill="#111"/>
<rect x="672.75" y="1252.05" width="8.5" height="8.5" fill="#111"/>
<rect x="733.05" y="1241.75" width="8.5" height="8.5" fill="#111"/>
<rect x="773.95" y="1227.95" width="8.5" height="8.5" fill="#111"/>
<rect x="791.05" y="1215.75" width="8.5" height="8.5" fill="#111"/>
<rect x="808.15" y="1201.05" width="8.5" height="8.5" fill="#111"/>
<rect x="819.05" y="1188.05" width="8.5" height="8.5" fill="#111"/>
<rect x="828.45" y="1174.15" width="8.5" height="8.5" fill="#111"/>
<rect x="835.55" y="1159.45" width="8.5" height="8.5" fill="#111"/>
<rect x="842.75" y="1144.85" width="8.5" height="8.5" fill="#111"/>
<rect x="848.65" y="1131.45" width="8.5" height="8.5" fill="#111"/>
<rect x="858.65" y="1104.35" width="8.5" height="8.5" fill="#111"/>
<rect x="869.55" y="1077.95" width="8.5" height="8.5" fill="#111"/>
<rect x="881.05" y="1050.55" width="8.5" height="8.5" fill="#111"/>
<rect x="891.95" y="1024.15" width="8.5" height="8.5" fill="#111"/>
<rect x="900.35" y="995.45" width="8.5" height="8.5" fill="#111"/>
<rect x="908.05" y="968.05" width="8.5" height="8.5" fill="#111"/>
<rect x="910.05" y="940.75" width="8.5" height="8.5" fill="#111"/>
<rect x="912.15" y="912.55" width="8.5" height="8.5" fill="#111"/>
<rect x="912.35" y="882.45" width="8.5" height="8.5" fill="#111"/>
<rect x="912.35" y="852.45" width="8.5" height="8.5" fill="#111"/>
<rect x="912.15" y="823.55" width="8.5" height="8.5" fill="#111"/>
<rect x="911.25" y="792.95" width="8.5" height="8.5" fill="#111"/>
<rect x="911.25" y="766.95" width="8.5" height="8.5" fill="#111"/>
<polyline points="1240,1283 1381,1280 1518.6,1276 1562.7,1271.8 1621.8,1266.5 1645.5,1264 1694.5,1256.7 1740.2,1249.4 1775.7,1240 1803.5,1230.6 1828,1219.6 1852.4,1204.5 1894.3,1175.3 1933.3,1145.7 1965.3,1112.4 1990.2,1074 2000.2,1044.8 2004.8,1026.8 2005.8,991.6 2005.8,948 2005.8,909 2004.8,861 2004.8,816.7 2004.8,791.8" fill="none" stroke="#484848" stroke-width="2.2" stroke-linejoin="round"/>
<rect x="1237.5" y="1280.5" width="5" height="5" fill="#111"/>
<rect x="1378.5" y="1277.5" width="5" height="5" fill="#111"/>
<rect x="1516.1" y="1273.5" width="5" height="5" fill="#111"/>
<rect x="1560.2" y="1269.3" width="5" height="5" fill="#111"/>
<rect x="1619.3" y="1264" width="5" height="5" fill="#111"/>
<rect x="1643" y="1261.5" width="5" height="5" fill="#111"/>
<rect x="1692" y="1254.2" width="5" height="5" fill="#111"/>
<rect x="1737.7" y="1246.9" width="5" height="5" fill="#111"/>
<rect x="1773.2" y="1237.5" width="5" height="5" fill="#111"/>
<rect x="1801" y="1228.1" width="5" height="5" fill="#111"/>
<rect x="1825.5" y="1217.1" width="5" height="5" fill="#111"/>
<rect x="1849.9" y="1202" width="5" height="5" fill="#111"/>
<rect x="1891.8" y="1172.8" width="5" height="5" fill="#111"/>
<rect x="1930.8" y="1143.2" width="5" height="5" fill="#111"/>
<rect x="1962.8" y="1109.9" width="5" height="5" fill="#111"/>
<rect x="1987.7" y="1071.5" width="5" height="5" fill="#111"/>
<rect x="1997.7" y="1042.3" width="5" height="5" fill="#111"/>
<rect x="2002.3" y="1024.3" width="5" height="5" fill="#111"/>
<rect x="2003.3" y="989.1" width="5" height="5" fill="#111"/>
<rect x="2003.3" y="945.5" width="5" height="5" fill="#111"/>
<rect x="2003.3" y="906.5" width="5" height="5" fill="#111"/>
<rect x="2002.3" y="858.5" width="5" height="5" fill="#111"/>
<rect x="2002.3" y="814.2" width="5" height="5" fill="#111"/>
<rect x="2002.3" y="789.3" width="5" height="5" fill="#111"/>
<polyline points="146,2011 422,2008 747.1,1998.3 940.7,1989.5 961.2,1978.1 949.1,1964.6 891.2,1952.5 868.3,1937.7 841.4,1924.9 830.6,1911.4 812.8,1896.3 783.5,1881.1 767.3,1868.3 698.6,1840.7 602.3,1813.7 500,1786.8 401.25,1760.75 309.5,1732 261.25,1705 232.5,1677 204.5,1648.75 184.5,1619.5 169.5,1590 163,1560 158.75,1529.25 156.25,1503.75" fill="none" stroke="#303030" stroke-width="2.2" stroke-linejoin="round"/>
<rect x="141.5" y="2006.5" width="9" height="9" fill="#111"/>
<rect x="417.5" y="2003.5" width="9" height="9" fill="#111"/>
<rect x="742.6" y="1993.8" width="9" height="9" fill="#111"/>
<rect x="936.2" y="1985" width="9" height="9" fill="#111"/>
<rect x="956.7" y="1973.6" width="9" height="9" fill="#111"/>
<rect x="944.6" y="1960.1" width="9" height="9" fill="#111"/>
<rect x="886.7" y="1948" width="9" height="9" fill="#111"/>
<rect x="863.8" y="1933.2" width="9" height="9" fill="#111"/>
<rect x="836.9" y="1920.4" width="9" height="9" fill="#111"/>
<rect x="826.1" y="1906.9" width="9" height="9" fill="#111"/>
<rect x="808.3" y="1891.8" width="9" height="9" fill="#111"/>
<rect x="779" y="1876.6" width="9" height="9" fill="#111"/>
<rect x="762.8" y="1863.8" width="9" height="9" fill="#111"/>
<rect x="694.1" y="1836.2" width="9" height="9" fill="#111"/>
<rect x="597.8" y="1809.2" width="9" height="9" fill="#111"/>
<rect x="495.5" y="1782.3" width="9" height="9" fill="#111"/>
<rect x="396.75" y="1756.25" width="9" height="9" fill="#111"/>
<rect x="305" y="1727.5" width="9" height="9" fill="#111"/>
<rect x="256.75" y="1700.5" width="9" height="9" fill="#111"/>
<rect x="228" y="1672.5" width="9" height="9" fill="#111"/>
<rect x="200" y="1644.25" width="9" height="9" fill="#111"/>
<rect x="180" y="1615" width="9" height="9" fill="#111"/>
<rect x="165" y="1585.5" width="9" height="9" fill="#111"/>
<rect x="158.5" y="1555.5" width="9" height="9" fill="#111"/>
<rect x="154.25" y="1524.75" width="9" height="9" fill="#111"/>
<rect x="151.75" y="1499.25" width="9" height="9" fill="#111"/>
<polyline points="1266,2014 1418.75,2012 1599.6,2009.3 1698.7,2005 1861.8,1999.9 1928,1997.2 2036,1990.7 2120.2,1982.3 2169.6,1973.5 2167.2,1964.4 2147,1952.5 2055.6,1938 1891.5,1908.5 1711.2,1879.1 1535,1845.5 1381.25,1808 1312,1778.75 1291.75,1759.5 1276.25,1725 1273.75,1681.75 1270.75,1642.5 1269.5,1594.25 1268.75,1550 1268.75,1526.25" fill="none" stroke="#303030" stroke-width="2.2" stroke-linejoin="round"/>
<rect x="1261.75" y="2009.75" width="8.5" height="8.5" fill="#111"/>
<rect x="1414.5" y="2007.75" width="8.5" height="8.5" fill="#111"/>
<rect x="1595.35" y="2005.05" width="8.5" height="8.5" fill="#111"/>
<rect x="1694.45" y="2000.75" width="8.5" height="8.5" fill="#111"/>
<rect x="1857.55" y="1995.65" width="8.5" height="8.5" fill="#111"/>
<rect x="1923.75" y="1992.95" width="8.5" height="8.5" fill="#111"/>
<rect x="2031.75" y="1986.45" width="8.5" height="8.5" fill="#111"/>
<rect x="2115.95" y="1978.05" width="8.5" height="8.5" fill="#111"/>
<rect x="2165.35" y="1969.25" width="8.5" height="8.5" fill="#111"/>
<rect x="2162.95" y="1960.15" width="8.5" height="8.5" fill="#111"/>
<rect x="2142.75" y="1948.25" width="8.5" height="8.5" fill="#111"/>
<rect x="2051.35" y="1933.75" width="8.5" height="8.5" fill="#111"/>
<rect x="1887.25" y="1904.25" width="8.5" height="8.5" fill="#111"/>
<rect x="1706.95" y="1874.85" width="8.5" height="8.5" fill="#111"/>
<rect x="1530.75" y="1841.25" width="8.5" height="8.5" fill="#111"/>
<rect x="1377" y="1803.75" width="8.5" height="8.5" fill="#111"/>
<rect x="1307.75" y="1774.5" width="8.5" height="8.5" fill="#111"/>
<rect x="1287.5" y="1755.25" width="8.5" height="8.5" fill="#111"/>
<rect x="1272" y="1720.75" width="8.5" height="8.5" fill="#111"/>
<rect x="1269.5" y="1677.5" width="8.5" height="8.5" fill="#111"/>
<rect x="1266.5" y="1638.25" width="8.5" height="8.5" fill="#111"/>
<rect x="1265.25" y="1590" width="8.5" height="8.5" fill="#111"/>
<rect x="1264.5" y="1545.75" width="8.5" height="8.5" fill="#111"/>
<rect x="1264.5" y="1522" width="8.5" height="8.5" fill="#111"/>
<text x="89.14" y="761.9" font-size="41.5" textLength="46.23" lengthAdjust="spacingAndGlyphs">60</text>
<text x="89.6" y="848.15" font-size="41.5" textLength="45.75" lengthAdjust="spacingAndGlyphs">50</text>
<text x="89.04" y="939.4" font-size="41.5" textLength="46.6" lengthAdjust="spacingAndGlyphs">40</text>
<text x="89.42" y="1030.4" font-size="41.5" textLength="46.2" lengthAdjust="spacingAndGlyphs">30</text>
<text x="89.39" y="1115.2" font-size="41.5" textLength="46.76" lengthAdjust="spacingAndGlyphs">20</text>
<text x="84.17" y="1206" font-size="41.5" textLength="47.19" lengthAdjust="spacingAndGlyphs">10</text>
<text x="103.58" y="1286.6" font-size="41.5" textLength="23.04" lengthAdjust="spacingAndGlyphs">0</text>
<text x="138.56" y="1326.3" font-size="41.5" textLength="23.08" lengthAdjust="spacingAndGlyphs">0</text>
<text x="271.39" y="1324.2" font-size="41.5" textLength="57.69" lengthAdjust="spacingAndGlyphs">0,2</text>
<text x="424.85" y="1321.7" font-size="41.5" textLength="57.69" lengthAdjust="spacingAndGlyphs">0,4</text>
<text x="583.16" y="1321.7" font-size="41.5" textLength="57.69" lengthAdjust="spacingAndGlyphs">0,6</text>
<text x="731.95" y="1321.7" font-size="41.5" textLength="57.69" lengthAdjust="spacingAndGlyphs">0,8</text>
<text x="898.79" y="1322.7" font-size="41.5" textLength="23.08" lengthAdjust="spacingAndGlyphs">1</text>
<text x="1187.19" y="766.4" font-size="41.5" textLength="45.53" lengthAdjust="spacingAndGlyphs">35</text>
<text x="1182.19" y="836.4" font-size="41.5" textLength="45.67" lengthAdjust="spacingAndGlyphs">30</text>
<text x="1183.88" y="914.9" font-size="41.5" textLength="46.89" lengthAdjust="spacingAndGlyphs">25</text>
<text x="1183.89" y="989.4" font-size="41.5" textLength="46.76" lengthAdjust="spacingAndGlyphs">20</text>
<text x="1184.32" y="1064.9" font-size="41.5" textLength="46.43" lengthAdjust="spacingAndGlyphs">15</text>
<text x="1184.25" y="1138.6" font-size="41.5" textLength="47.41" lengthAdjust="spacingAndGlyphs">10</text>
<text x="1203.31" y="1219.8" font-size="41.5" textLength="23.46" lengthAdjust="spacingAndGlyphs">5</text>
<text x="1205.08" y="1296.9" font-size="41.5" textLength="23.04" lengthAdjust="spacingAndGlyphs">0</text>
<text x="1224.66" y="1326.5" font-size="41.5" textLength="23.08" lengthAdjust="spacingAndGlyphs">0</text>
<text x="1359.29" y="1323" font-size="41.5" textLength="57.69" lengthAdjust="spacingAndGlyphs">0,2</text>
<text x="1512.35" y="1321.7" font-size="41.5" textLength="57.69" lengthAdjust="spacingAndGlyphs">0,4</text>
<text x="1670.76" y="1321.7" font-size="41.5" textLength="57.69" lengthAdjust="spacingAndGlyphs">0,6</text>
<text x="1819.85" y="1321.7" font-size="41.5" textLength="57.69" lengthAdjust="spacingAndGlyphs">0,8</text>
<text x="1989.39" y="1321.7" font-size="41.5" textLength="23.08" lengthAdjust="spacingAndGlyphs">1</text>
<text x="94.09" y="1494" font-size="41.5" textLength="46.13" lengthAdjust="spacingAndGlyphs">60</text>
<text x="94.56" y="1580" font-size="41.5" textLength="45.65" lengthAdjust="spacingAndGlyphs">50</text>
<text x="94.05" y="1670.1" font-size="41.5" textLength="46.17" lengthAdjust="spacingAndGlyphs">40</text>
<text x="94.42" y="1761.9" font-size="41.5" textLength="46.2" lengthAdjust="spacingAndGlyphs">30</text>
<text x="94.41" y="1847.2" font-size="41.5" textLength="46.21" lengthAdjust="spacingAndGlyphs">20</text>
<text x="89.72" y="1938" font-size="41.5" textLength="44.96" lengthAdjust="spacingAndGlyphs">10</text>
<text x="107.52" y="2019.2" font-size="41.5" textLength="23.85" lengthAdjust="spacingAndGlyphs">0</text>
<text x="136.46" y="2053.8" font-size="41.5" textLength="23.08" lengthAdjust="spacingAndGlyphs">0</text>
<text x="233.52" y="2057" font-size="41.5" textLength="57.69" lengthAdjust="spacingAndGlyphs">0,5</text>
<text x="365.99" y="2057" font-size="41.5" textLength="23.08" lengthAdjust="spacingAndGlyphs">1</text>
<text x="479.45" y="2053.8" font-size="41.5" textLength="57.69" lengthAdjust="spacingAndGlyphs">1,5</text>
<text x="601.26" y="2053.8" font-size="41.5" textLength="23.08" lengthAdjust="spacingAndGlyphs">2</text>
<text x="701.68" y="2053.8" font-size="41.5" textLength="57.69" lengthAdjust="spacingAndGlyphs">2,5</text>
<text x="829.28" y="2057" font-size="41.5" textLength="23.08" lengthAdjust="spacingAndGlyphs">3</text>
<text x="934.04" y="2053.8" font-size="41.5" textLength="57.69" lengthAdjust="spacingAndGlyphs">3,5</text>
<text x="1056.89" y="2053.8" font-size="41.5" textLength="23.08" lengthAdjust="spacingAndGlyphs">4</text>
<text x="1211.26" y="1498.8" font-size="41.5" textLength="44.94" lengthAdjust="spacingAndGlyphs">35</text>
<text x="1205.94" y="1568.15" font-size="41.5" textLength="45.67" lengthAdjust="spacingAndGlyphs">30</text>
<text x="1208.03" y="1647.4" font-size="41.5" textLength="43.62" lengthAdjust="spacingAndGlyphs">25</text>
<text x="1208.03" y="1721.9" font-size="41.5" textLength="43.49" lengthAdjust="spacingAndGlyphs">20</text>
<text x="1208.01" y="1800.4" font-size="41.5" textLength="43.64" lengthAdjust="spacingAndGlyphs">15</text>
<text x="1207.57" y="1879.9" font-size="41.5" textLength="47.19" lengthAdjust="spacingAndGlyphs">10</text>
<text x="1224.19" y="1954.4" font-size="41.5" textLength="22.4" lengthAdjust="spacingAndGlyphs">5</text>
<text x="1228.98" y="2030.8" font-size="41.5" textLength="23.04" lengthAdjust="spacingAndGlyphs">0</text>
<text x="1254.96" y="2058.3" font-size="41.5" textLength="23.08" lengthAdjust="spacingAndGlyphs">0</text>
<text x="1340.52" y="2061" font-size="41.5" textLength="57.69" lengthAdjust="spacingAndGlyphs">0,5</text>
<text x="1459.49" y="2061" font-size="41.5" textLength="23.08" lengthAdjust="spacingAndGlyphs">1</text>
<text x="1547.75" y="2061" font-size="41.5" textLength="57.69" lengthAdjust="spacingAndGlyphs">1,5</text>
<text x="1664.26" y="2061" font-size="41.5" textLength="23.08" lengthAdjust="spacingAndGlyphs">2</text>
<text x="1750.28" y="2061" font-size="41.5" textLength="57.69" lengthAdjust="spacingAndGlyphs">2,5</text>
<text x="1863.98" y="2061" font-size="41.5" textLength="23.08" lengthAdjust="spacingAndGlyphs">3</text>
<text x="1954.84" y="2061" font-size="41.5" textLength="57.69" lengthAdjust="spacingAndGlyphs">3,5</text>
<text x="2068.99" y="2061" font-size="41.5" textLength="23.08" lengthAdjust="spacingAndGlyphs">4</text>
<text x="2156.65" y="2061" font-size="41.5" textLength="57.69" lengthAdjust="spacingAndGlyphs">4,5</text>
<text x="354.51 385.12 414.84 428.72 457.06 482.22 496.4 513.44 537.94 549.07 564.58 596.5 614.52 628.67 655.93 666.14 680.64 698.85" y="1375.7" font-size="49">Velocity ratio [-]</text>
<text x="1533.01 1563.62 1593.34 1607.22 1635.56 1660.72 1674.9 1691.94 1716.44 1727.57 1743.08 1775 1793.02 1807.17 1834.43 1844.64 1859.14 1877.35" y="1380.5" font-size="49">Velocity ratio [-]</text>
<text y="2115.2" font-size="49.5"><tspan x="246.94 274.37 304.88 323.33 352.97 383.54 396.78 425.5 457.03 470.78 480.52 508.06 521.5 550.68 580.28 598.06 610.43 635.18 641.28 669.7 698.43 727.68 744.99 774.01 798.76 810.15 825.82">Turbulent kinetic energy [m</tspan><tspan x="868.42" y="2113.6" font-size="56" font-weight="bold">&#178;</tspan><tspan x="887.42 899.98" y="2115.2">.s</tspan><tspan x="921.91 934.44" y="2099.2" font-size="31.5">-2</tspan><tspan x="953.99" y="2115.2">]</tspan></text>
<text y="2124.2" font-size="49.5"><tspan x="1344.54 1371.97 1402.48 1420.93 1450.57 1481.14 1494.38 1523.1 1554.63 1568.38 1578.12 1605.66 1619.1 1648.28 1677.88 1695.66 1708.03 1732.78 1738.88 1767.3 1796.03 1825.28 1842.59 1871.61 1896.36 1907.75 1923.42">Turbulent kinetic energy [m</tspan><tspan x="1966.02" y="2122.6" font-size="56" font-weight="bold">&#178;</tspan><tspan x="1985.02 1997.58" y="2124.2">.s</tspan><tspan x="2019.51 2032.04" y="2108.2" font-size="31.5">-2</tspan><tspan x="2051.59" y="2124.2">]</tspan></text>
<text transform="translate(61.5,1281) rotate(-90)" x="-5.8 31.6 42.08 66.04 80.88 112.17 140.47 165.01 193.09 202.89 220.83 237.96 269.55 311.62 328.09 362.98 394.13 408.03 419.25 430.63 448.65 492.9 536.34" y="0" font-size="50.5">Distance from wall [mm]</text>
<text transform="translate(1152.3,1285.6) rotate(-90)" x="-5.8 31.6 42.08 66.04 80.88 112.17 140.47 165.01 193.09 202.89 220.83 237.96 269.55 311.62 328.09 362.98 394.13 408.03 419.25 430.63 448.65 492.9 536.34" y="0" font-size="50.5">Distance from wall [mm]</text>
<text transform="translate(63.7,2022.2) rotate(-90)" x="-5.8 31.6 42.08 66.04 80.88 112.17 140.47 165.01 193.09 202.89 220.83 237.96 269.55 311.62 328.09 362.98 394.13 408.03 419.25 430.63 448.65 492.9 536.34" y="0" font-size="50.5">Distance from wall [mm]</text>
<text transform="translate(1184.3,2022.2) rotate(-90)" x="-5.8 31.6 42.08 66.04 80.88 112.17 140.47 165.01 193.09 202.89 220.83 237.96 269.55 311.62 328.09 362.98 394.13 408.03 419.25 430.63 448.65 492.9 536.34" y="0" font-size="50.5">Distance from wall [mm]</text>
<text y="1127" font-size="44"><tspan x="313.1" font-size="48">&#948;</tspan><tspan x="340.69 367.45 392.4 420 460.15" font-weight="bold">=34mm</tspan></text>
<text y="1171.4" font-size="44"><tspan x="1422.05" font-size="48">&#948;</tspan><tspan x="1449.99 1475.94 1501.7 1527.5 1569.65" font-weight="bold">=16mm</tspan></text>
<text x="926.69" y="1243" font-size="43.5" textLength="85.61" lengthAdjust="spacingAndGlyphs" font-weight="bold">V=V</text>
<text x="1011.27" y="1255.2" font-size="29" textLength="28.95" lengthAdjust="spacingAndGlyphs">&#8734;</text>
<text x="2017.7" y="1251" font-size="43.5" textLength="84.6" lengthAdjust="spacingAndGlyphs" font-weight="bold">V=V</text>
<text x="2101.8" y="1263.2" font-size="29" textLength="28.61" lengthAdjust="spacingAndGlyphs">&#8734;</text>
</svg></body></html>
